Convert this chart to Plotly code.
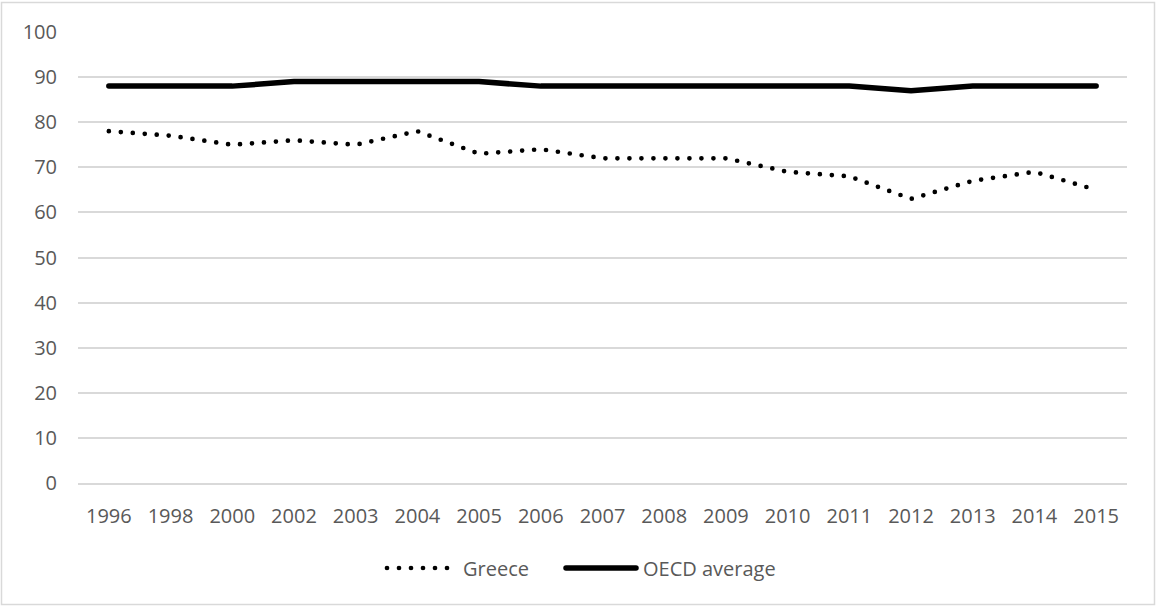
import plotly.graph_objects as go

years = ["1996", "1998", "2000", "2002", "2003", "2004", "2005", "2006", "2007",
         "2008", "2009", "2010", "2011", "2012", "2013", "2014", "2015"]
greece = [78, 77, 75, 76, 75, 78, 73, 74, 72, 72, 72, 69, 68, 63, 67, 69, 65]
oecd = [88, 88, 88, 89, 89, 89, 89, 88, 88, 88, 88, 88, 88, 87, 88, 88, 88]
y_ticks = [0, 10, 20, 30, 40, 50, 60, 70, 80, 90, 100]
series_names = ["Greece", "OECD average"]

FONT = "Open Sans"
TXT = "#595959"
GRID = "#d9d9d9"

W, H = 1157, 606
L, R, T, B = 78, 30, 32, 123
pw = W - L - R
ph = H - T - B

def px(x):
    return (x - L) / pw

def py(y):
    return (H - B - y) / ph

fig = go.Figure()
fig.add_trace(go.Scatter(x=years, y=greece, mode="lines", name=series_names[0],
                         line=dict(color="black", width=4.7, dash="0px,12px"),
                         showlegend=False))
fig.add_trace(go.Scatter(x=years, y=oecd, mode="lines", name=series_names[1],
                         line=dict(color="black", width=5.5),
                         showlegend=False))

shapes = [
    dict(type="rect", xref="paper", yref="paper",
         x0=px(1.5), x1=px(1154.5), y0=py(604.5), y1=py(2.5),
         line=dict(color=GRID, width=1.5), fillcolor="rgba(0,0,0,0)", layer="below"),
    dict(type="line", xref="paper", yref="paper",
         x0=px(387), x1=px(452), y0=py(568), y1=py(568),
         line=dict(color="black", width=4.7, dash="0px,12px")),
    dict(type="line", xref="paper", yref="paper",
         x0=px(566), x1=px(636), y0=py(568), y1=py(568),
         line=dict(color="black", width=5.5)),
]
annotations = [
    dict(xref="paper", yref="paper", x=px(461), y=py(568), text=series_names[0],
         showarrow=False, xanchor="left", yanchor="middle",
         font=dict(family=FONT, size=20, color=TXT)),
    dict(xref="paper", yref="paper", x=px(641), y=py(568), text=series_names[1],
         showarrow=False, xanchor="left", yanchor="middle",
         font=dict(family=FONT, size=20, color=TXT)),
]

fig.update_layout(
    width=W, height=H,
    margin=dict(l=L, r=R, t=T, b=B, pad=0),
    paper_bgcolor="white", plot_bgcolor="white",
    font=dict(family=FONT, size=20, color=TXT),
    shapes=shapes, annotations=annotations,
    xaxis=dict(type="category", range=[-0.5, 16.5], showgrid=False,
               showline=True, linecolor=GRID, linewidth=1.5,
               ticks="", ticklabelstandoff=14, tickfont=dict(size=20, color=TXT),
               fixedrange=True),
    yaxis=dict(range=[0, 100], tickvals=y_ticks, showgrid=True, gridcolor=GRID,
               gridwidth=1.5, zeroline=False, showline=False, ticks="",
               ticklabelstandoff=20, tickfont=dict(size=20, color=TXT),
               fixedrange=True),
)

post = ("var s=document.createElement('style');"
        "s.innerHTML='.js-line, .shapelayer path{stroke-linecap:round;}';"
        "document.head.appendChild(s);")
fig.write_html("out.html", config={"displayModeBar": False}, post_script=post)
